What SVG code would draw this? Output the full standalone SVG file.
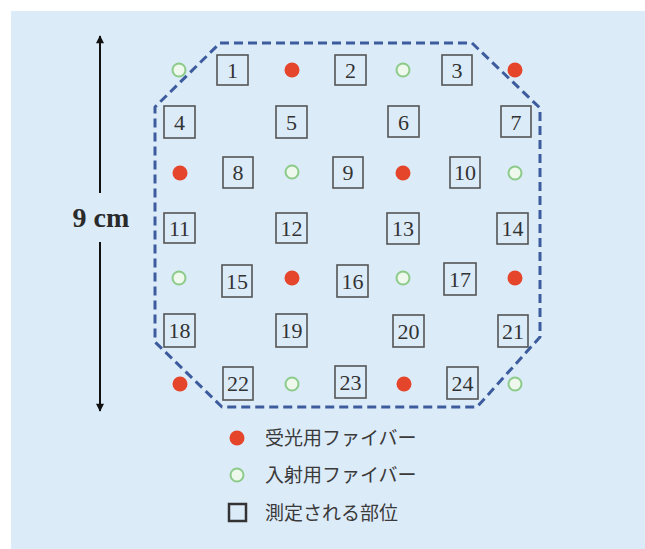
<svg xmlns="http://www.w3.org/2000/svg" width="645" height="549" viewBox="0 0 645 549">
<defs>
<style>
.bg{fill:#dcebf8}
.box{fill:none;stroke:#555;stroke-width:1.6}
.num{font-family:"Liberation Serif","DejaVu Serif",serif;font-size:22px;fill:#333;text-anchor:middle}
.rx{fill:#e5452a}
.gx{fill:#eef8ec;stroke:#8ccb8a;stroke-width:2}
.leg{font-family:"Noto Sans CJK JP","Noto Sans",sans-serif;font-size:19px;fill:#3a3a3a}
.dash{fill:none;stroke:#3d5c9e;stroke-width:3;stroke-dasharray:9 5;stroke-linejoin:round}
.dim{stroke:#111;stroke-width:2}
</style>
<marker id="ah" viewBox="0 0 10 10" refX="9" refY="5" markerWidth="13" markerHeight="8" orient="auto-start-reverse" markerUnits="userSpaceOnUse">
<path d="M0,0 L10,5 L0,10 z" fill="#111"/>
</marker>
</defs>
<rect x="11" y="11" width="634" height="538" class="bg"/>

<g id="connectors">
<polygon class="dash" points="220,43 472,43 540,108 540,337 477,407 222,407 155,342 155,107"/>
<line class="dim" x1="100" y1="193" x2="100" y2="36" marker-end="url(#ah)"/>
<line class="dim" x1="100" y1="242" x2="100" y2="411" marker-end="url(#ah)"/>
</g>
<text x="101" y="227" style="font-family:'Liberation Serif',serif;font-size:28px;font-weight:bold;fill:#2a2a2a;text-anchor:middle">9 cm</text>

<g id="fibers">
<circle class="gx" cx="179" cy="70" r="6.5"/>
<circle class="rx" cx="292" cy="70" r="7.5"/>
<circle class="gx" cx="403" cy="70" r="6.5"/>
<circle class="rx" cx="515" cy="70" r="7.5"/>
<circle class="rx" cx="180" cy="173" r="7.5"/>
<circle class="gx" cx="292" cy="172" r="6.5"/>
<circle class="rx" cx="403" cy="173" r="7.5"/>
<circle class="gx" cx="515" cy="173" r="6.5"/>
<circle class="gx" cx="179" cy="278" r="6.5"/>
<circle class="rx" cx="292" cy="278" r="7.5"/>
<circle class="gx" cx="403" cy="278" r="6.5"/>
<circle class="rx" cx="515" cy="278" r="7.5"/>
<circle class="rx" cx="180" cy="384" r="7.5"/>
<circle class="gx" cx="292" cy="384" r="6.5"/>
<circle class="rx" cx="404" cy="384" r="7.5"/>
<circle class="gx" cx="515" cy="384" r="6.5"/>
</g>

<g id="n1"><rect class="box" x="217" y="55" width="31" height="30"/><text class="num" x="232.5" y="78">1</text></g>
<g id="n2"><rect class="box" x="335" y="55" width="31" height="30"/><text class="num" x="350.5" y="78">2</text></g>
<g id="n3"><rect class="box" x="442" y="55" width="30" height="30"/><text class="num" x="457" y="78">3</text></g>
<g id="n4"><rect class="box" x="164" y="106" width="31" height="32"/><text class="num" x="179.5" y="130">4</text></g>
<g id="n5"><rect class="box" x="276" y="106" width="31" height="32"/><text class="num" x="291.5" y="130">5</text></g>
<g id="n6"><rect class="box" x="388" y="106" width="31" height="31"/><text class="num" x="403.5" y="130">6</text></g>
<g id="n7"><rect class="box" x="501" y="106" width="30" height="31"/><text class="num" x="516" y="130">7</text></g>
<g id="n8"><rect class="box" x="223" y="157" width="30" height="31"/><text class="num" x="238" y="180">8</text></g>
<g id="n9"><rect class="box" x="333" y="157" width="30" height="31"/><text class="num" x="348" y="180">9</text></g>
<g id="n10"><rect class="box" x="450" y="157" width="30" height="31"/><text class="num" x="465" y="180">10</text></g>
<g id="n11"><rect class="box" x="164" y="213" width="31" height="30"/><text class="num" x="179.5" y="236">11</text></g>
<g id="n12"><rect class="box" x="276" y="213" width="31" height="30"/><text class="num" x="291.5" y="236">12</text></g>
<g id="n13"><rect class="box" x="387" y="213" width="32" height="31"/><text class="num" x="403" y="236">13</text></g>
<g id="n14"><rect class="box" x="497" y="213" width="31" height="31"/><text class="num" x="512.5" y="236">14</text></g>
<g id="n15"><rect class="box" x="222" y="265" width="30" height="32"/><text class="num" x="237" y="289">15</text></g>
<g id="n16"><rect class="box" x="337" y="265" width="31" height="32"/><text class="num" x="352.5" y="289">16</text></g>
<g id="n17"><rect class="box" x="444" y="263" width="32" height="32"/><text class="num" x="460" y="287">17</text></g>
<g id="n18"><rect class="box" x="164" y="314" width="31" height="33"/><text class="num" x="179.5" y="338">18</text></g>
<g id="n19"><rect class="box" x="276" y="314" width="31" height="33"/><text class="num" x="291.5" y="338">19</text></g>
<g id="n20"><rect class="box" x="393" y="315" width="31" height="32"/><text class="num" x="408.5" y="339">20</text></g>
<g id="n21"><rect class="box" x="498" y="315" width="30" height="32"/><text class="num" x="513" y="339">21</text></g>
<g id="n22"><rect class="box" x="223" y="367" width="30" height="33"/><text class="num" x="238" y="391">22</text></g>
<g id="n23"><rect class="box" x="335" y="366" width="31" height="32"/><text class="num" x="350.5" y="390">23</text></g>
<g id="n24"><rect class="box" x="447" y="367" width="31" height="32"/><text class="num" x="462.5" y="391">24</text></g>

<g id="legend">
<circle class="rx" cx="237" cy="438" r="7.5"/>
<text class="leg" x="265" y="445">受光用ファイバー</text>
<circle class="gx" cx="237" cy="475" r="6.5"/>
<text class="leg" x="265" y="482">入射用ファイバー</text>
<rect x="229" y="504" width="17" height="17" fill="none" stroke="#333" stroke-width="2.5"/>
<text class="leg" x="265" y="519.5">測定される部位</text>
</g>
</svg>
